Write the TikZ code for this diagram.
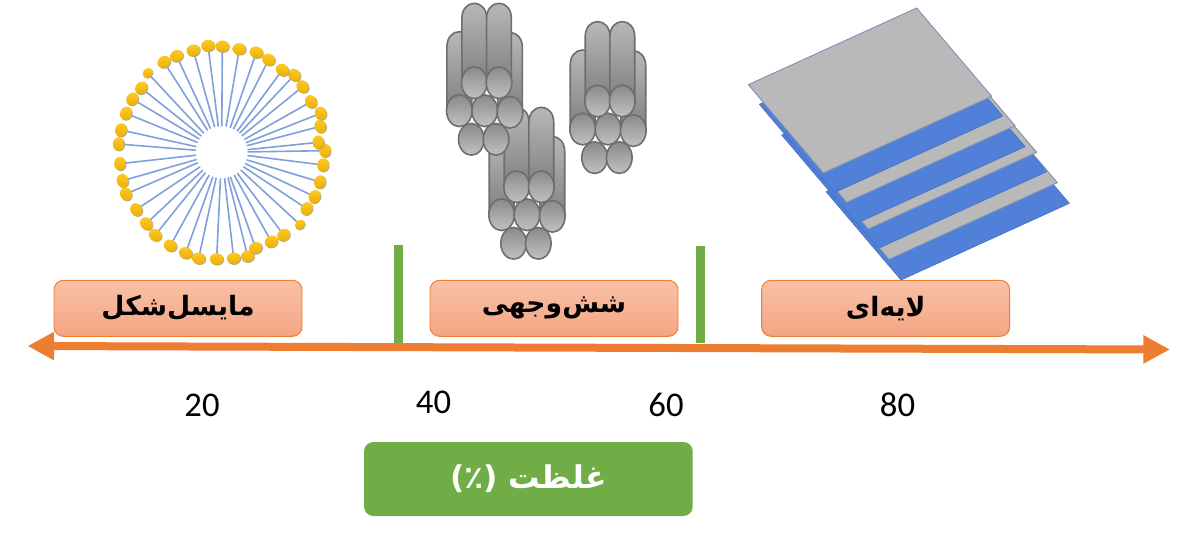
\documentclass[tikz,border=0pt]{standalone}
\usepackage{fontspec}
\setmainfont{Carlito}
\newfontfamily\arabicfont[Script=Arabic]{DejaVu Sans}
\TeXXeTstate=1
\usetikzlibrary{arrows.meta}
\definecolor{axisorange}{HTML}{ED7D31}
\definecolor{labeltop}{HTML}{F8C1A6}
\definecolor{labelbot}{HTML}{F4A583}
\definecolor{barGreen}{HTML}{70AD47}
\definecolor{tailblue}{HTML}{7FA0DC}
\definecolor{headgold}{HTML}{FFC000}
\definecolor{sheetblue}{HTML}{5080D8}
\definecolor{sheetgray}{HTML}{B9B9B9}
\definecolor{sheetedge}{HTML}{7F93B5}
\definecolor{rodedge}{HTML}{6E6E6E}
\tikzset{
  phase/.style={draw=axisorange,line width=0.7pt,top color=labeltop,bottom color=labelbot,
    rounded corners=7pt,minimum width=186pt,minimum height=42pt,inner sep=0pt,
    font=\arabicfont\bfseries\fontsize{20}{22}\selectfont},
  tick/.style={font=\fontsize{26}{28}\selectfont,text=black,inner sep=0pt},
  rodside/.style={draw=rodedge,line width=1.2pt,top color=black!28,middle color=black!55,bottom color=black!50},
  rodend/.style={draw=rodedge,line width=1.2pt,top color=black!46,bottom color=black!24},
  graysheet/.style={fill=sheetgray,draw=sheetedge,line width=0.7pt,line join=round},
  bluesheet/.style={fill=sheetblue,draw=sheetblue!90!black,line width=0.5pt,line join=round},
}
\newcommand{\rod}[3]{\path[rodside] ({#1-12.4},{#2+15}) .. controls ({#1-12.4},{#2+6}) and ({#1-7},{#2}) .. ({#1},{#2}) .. controls ({#1+7},{#2}) and ({#1+12.4},{#2+6}) .. ({#1+12.4},{#2+15}) -- ({#1+12.4},{#3}) -- ({#1-12.4},{#3}) -- cycle;}
\newcommand{\rodface}[2]{\path[rodend] (#1,#2) ellipse [x radius=9.6pt,y radius=11.9pt];}
\newcommand{\bundle}[2]{\begin{scope}[shift={(#1,#2)}]
  \rod{29.3}{31.7}{110.7}\rod{80}{32.5}{112.3}
  \rodface{41.3}{139.3}\rodface{66}{139.3}
  \rodface{29.3}{110.7}\rodface{54.7}{110.7}\rodface{80}{112.3}
  \rod{44.3}{3.3}{82.7}\rod{69}{3.3}{82.7}
  \rodface{44.3}{82.7}\rodface{69}{82.7}
\end{scope}}
\newcommand{\sheet}[3]{\path[#1] (#2,#3) -- ({#2+505},{#3-230}) -- ({#2+280},{#3-495}) -- ({#2-225},{#3-265}) -- cycle;}
\begin{document}
\begin{tikzpicture}[x=0.75pt,y=-0.75pt]
\useasboundingbox (0,0) rectangle (1198,536);
% micelle
\foreach \hx/\hy/\hs in {143/129/0.8,124/174/1,97/207/1,78/250/1,63/300/1,56/342/1,60/401/1,68/452/1,78/492/1,109/539/1,139/581/1,166/615/1,211/647/1,257/669/1,296/685/1,350/687/1,401/685/1,443/679/1,467/654/1,514/635/1,551/615/1,600/584/0.8,620/536/1,644/500/1,660/456/1,669/405/1,675/362/1,655/337/1,661/289/1,662/250/1,633/215/1,608/170/1,583/135/1,547/120/1,506/89/1,469/67/1,418/57/1,367/49/1,324/47/1,280/61/1,230/78/1,192/96/1}{
  \pgfmathsetmacro\ang{atan2(367-\hy,\hx-365)}
  \draw[tailblue,line width=1.2pt] ({100+(365+78*cos(\ang))/3},{30+(367-78*sin(\ang))/3}) -- ({100+\hx/3},{30+\hy/3});
  \fill[black!35,shift={({100.7+\hx/3},{30.7+\hy/3})},rotate=\ang+90] (0,0) ellipse [x radius=\hs*5.1pt,y radius=\hs*4.4pt];
  \shade[top color=headgold!85!white,bottom color=headgold!92!black,shift={({100+\hx/3},{30+\hy/3})},rotate=\ang+90] (0,0) ellipse [x radius=\hs*5.1pt,y radius=\hs*4.4pt];
}
% hexagonal bundles
\bundle{472.3}{104}
\bundle{430}{0}
\bundle{553.3}{18.3}
% lamellar sheets
\begin{scope}[shift={(740,0)},x=0.25pt,y=-0.25pt]
  \sheet{bluesheet}{483}{840}
  \sheet{graysheet}{447}{778}
  \sheet{bluesheet}{415}{745}
  \sheet{graysheet}{385}{687}
  \sheet{bluesheet}{350}{670}
  \sheet{graysheet}{320}{607}
  \sheet{bluesheet}{283}{578}
  \sheet{graysheet}{250}{519}
\end{scope}
% axis
\coordinate (axisL) at (27.5,346);
\coordinate (axisR) at (1170,349.5);
\draw[axisorange,line width=6pt,{Triangle[length=20pt,width=20pt]}-{Triangle[length=20pt,width=20pt]}] (axisL) -- (axisR);
% boundary bars
\coordinate (barAtop) at (398.8,245);
\coordinate (barAbot) at (398.8,343);
\coordinate (barBtop) at (700.8,246);
\coordinate (barBbot) at (700.8,343);
\draw[barGreen,line width=6.75pt] (barAtop) -- (barAbot);
\draw[barGreen,line width=6.75pt] (barBtop) -- (barBbot);
% phase labels
\node[phase] (micelle) at (178,308.3) {\beginR مایسل‌شکل\endR};
\node[phase] (hexagonal) at (554,308.3) {\beginR شش‌وجهی\endR};
\node[phase] (lamellar) at (885.7,308.3) {\beginR لایه‌ای\endR};
% ticks
\node[tick] (t20) at (202,405) {20};
\node[tick] (t40) at (433.5,402) {40};
\node[tick] (t60) at (666,405) {60};
\node[tick] (t80) at (897.5,405) {80};
% concentration label
\node[fill=barGreen,rounded corners=7pt,minimum width=246.5pt,minimum height=55.5pt,inner sep=0pt,text=white,font=\arabicfont\bfseries\fontsize{23.5}{25}\selectfont] (conc) at (528.4,479) {\beginR غلظت (٪)\endR};
\end{tikzpicture}
\end{document}
